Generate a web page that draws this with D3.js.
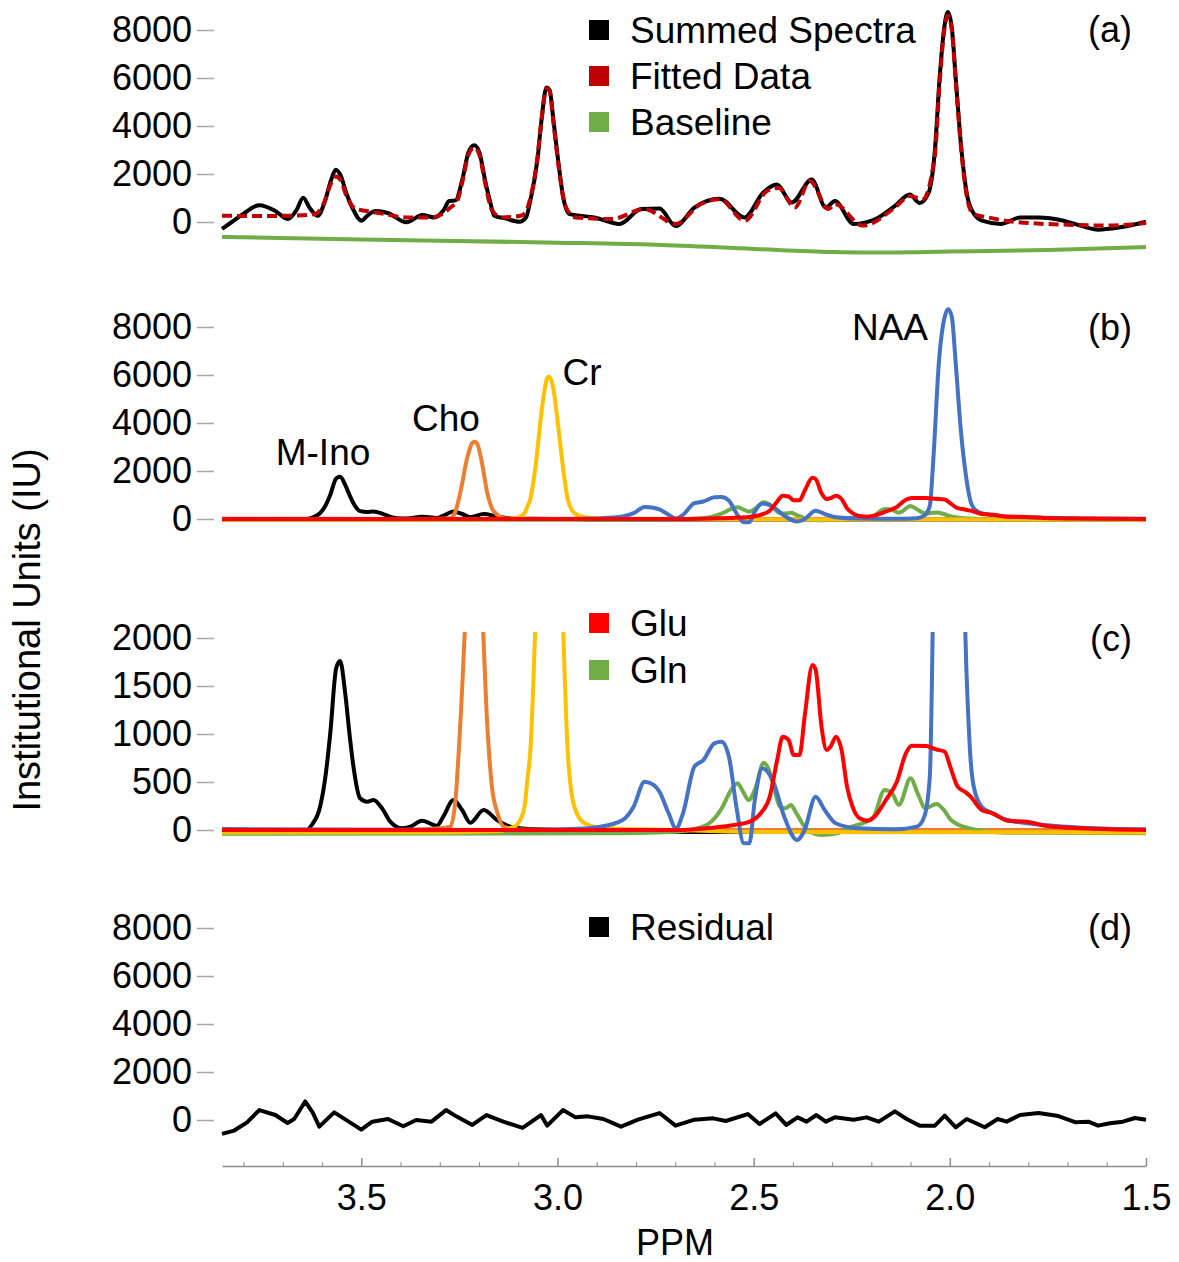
<!DOCTYPE html>
<html>
<head>
<meta charset="utf-8">
<script src="https://cdn.jsdelivr.net/npm/d3@7"></script>
<style>
  body { margin: 0; background: #fff; }
  svg text { font-family: "Liberation Sans", Arial, sans-serif; fill: #000; }
</style>
</head>
<body>
<svg id="chart" width="1179" height="1262"></svg>
<script>
// ---- data: [ppm, value] ----
const ppmTicks = [3.5, 3.0, 2.5, 2.0, 1.5];
const ppmMinorTicks = [3.8, 3.7, 3.6, 3.4, 3.3, 3.2, 3.1, 2.9, 2.8, 2.7, 2.6, 2.4, 2.3, 2.2, 2.1, 1.9, 1.8, 1.7, 1.6];
const bigTicks = [0, 2000, 4000, 6000, 8000];
const zoomTicks = [0, 500, 1000, 1500, 2000];

const summedSpectra = [[3.855,-290],[3.83,0],[3.80,350],[3.76,700],[3.719,460],[3.688,125],[3.665,500],[3.648,1010],[3.632,600],[3.611,260],[3.592,900],[3.577,1750],[3.565,2180],[3.553,1950],[3.538,1200],[3.52,500],[3.50,55],[3.482,300],[3.464,460],[3.432,375],[3.385,-15],[3.344,290],[3.314,190],[3.29,500],[3.276,875],[3.260,900],[3.242,1800],[3.227,2900],[3.212,3200],[3.199,2900],[3.184,1700],[3.171,800],[3.161,260],[3.133,150],[3.097,10],[3.080,200],[3.069,900],[3.051,2600],[3.041,4200],[3.028,5600],[3.020,5500],[3.010,4200],[2.997,2400],[2.985,1000],[2.969,330],[2.906,190],[2.842,-80],[2.786,540],[2.740,560],[2.699,-170],[2.651,600],[2.587,970],[2.523,190],[2.476,1220],[2.441,1560],[2.403,810],[2.352,1770],[2.316,600],[2.293,875],[2.245,-80],[2.189,125],[2.140,670],[2.102,1150],[2.077,790],[2.054,1220],[2.038,3000],[2.026,6000],[2.015,8000],[2.005,8750],[1.995,8100],[1.985,6000],[1.972,3300],[1.957,1200],[1.941,400],[1.918,55],[1.870,-80],[1.821,190],[1.774,190],[1.710,55],[1.663,-170],[1.622,-320],[1.566,-220],[1.500,10]];

const fittedData = [[3.855,260],[3.75,250],[3.688,260],[3.617,330],[3.595,800],[3.58,1500],[3.565,1900],[3.553,1750],[3.538,1100],[3.515,550],[3.487,460],[3.44,330],[3.385,190],[3.32,190],[3.273,600],[3.255,900],[3.242,1700],[3.227,2800],[3.212,3100],[3.199,2800],[3.184,1600],[3.167,500],[3.143,190],[3.094,260],[3.080,450],[3.069,1000],[3.051,2700],[3.041,4200],[3.028,5550],[3.020,5450],[3.010,4100],[2.997,2300],[2.985,1000],[2.969,350],[2.954,190],[2.862,125],[2.778,540],[2.699,-80],[2.635,750],[2.587,950],[2.523,55],[2.466,1290],[2.436,1420],[2.395,600],[2.357,1710],[2.309,540],[2.293,750],[2.222,-150],[2.140,600],[2.102,1080],[2.069,950],[2.038,2800],[2.026,5800],[2.015,7900],[2.005,8600],[1.995,8000],[1.985,5900],[1.972,3200],[1.957,1100],[1.941,350],[1.902,190],[1.838,10],[1.676,-125],[1.597,-150],[1.5,-40]];

const baseline = [[3.855,-620],[3.5,-730],[3.0,-860],[2.75,-950],[2.5,-1120],[2.3,-1250],[2.2,-1270],[2.0,-1230],[1.75,-1170],[1.5,-1040]];

const mIno = [[3.855,0],[3.64,0],[3.625,60],[3.605,243],[3.59,600],[3.579,1010],[3.564,1685],[3.554,1760],[3.541,1425],[3.530,1000],[3.520,660],[3.503,330],[3.485,295],[3.469,312],[3.447,225],[3.426,87],[3.396,17],[3.375,35],[3.345,97],[3.307,45],[3.291,140],[3.265,312],[3.243,208],[3.222,76],[3.188,208],[3.154,104],[3.120,35],[3.052,7],[2.967,0],[2.9,-20],[1.9,-20],[1.5,-10]];

const cho = [[3.855,0],[3.40,0],[3.349,5],[3.273,35],[3.260,312],[3.247,1150],[3.230,2550],[3.218,3150],[3.212,3220],[3.205,3150],[3.192,2300],[3.179,1100],[3.167,451],[3.153,177],[3.137,35],[3.10,5],[3.0,0],[1.5,0]];

const cr = [[3.855,-25],[3.3,-25],[3.145,-10],[3.120,20],[3.102,60],[3.084,243],[3.077,512],[3.069,834],[3.056,2180],[3.039,4680],[3.028,5790],[3.023,5930],[3.016,5800],[3.010,5375],[2.997,3708],[2.984,1904],[2.974,834],[2.957,243],[2.931,70],[2.880,17],[2.7,0],[2.5,-20],[1.5,-25]];

const naa = [[3.855,10],[3.10,0],[2.967,10],[2.890,35],[2.834,104],[2.806,243],[2.778,503],[2.755,470],[2.740,399],[2.717,177],[2.698,17],[2.680,174],[2.651,660],[2.628,729],[2.600,903],[2.582,920],[2.563,764],[2.544,243],[2.525,-139],[2.511,-139],[2.497,312],[2.478,643],[2.450,503],[2.422,139],[2.389,-104],[2.370,0],[2.342,347],[2.319,208],[2.291,70],[2.235,17],[2.140,7],[2.084,35],[2.065,139],[2.051,555],[2.042,2500],[2.028,6500],[2.013,8430],[2.004,8738],[1.995,8430],[1.985,6500],[1.972,3708],[1.958,1700],[1.947,729],[1.939,451],[1.919,243],[1.891,174],[1.853,104],[1.758,52],[1.663,24],[1.5,7]];

const glu = [[3.855,0],[2.700,0],[2.605,24],[2.549,52],[2.510,87],[2.482,174],[2.459,347],[2.440,729],[2.426,972],[2.411,938],[2.398,781],[2.383,781],[2.370,1180],[2.350,1719],[2.342,1667],[2.327,1076],[2.314,834],[2.304,868],[2.290,972],[2.276,834],[2.262,451],[2.248,243],[2.230,122],[2.210,97],[2.192,139],[2.163,312],[2.135,503],[2.112,799],[2.097,878],[2.060,875],[2.036,840],[2.013,816],[1.999,660],[1.980,451],[1.962,399],[1.947,347],[1.919,208],[1.891,174],[1.853,97],[1.804,87],[1.758,45],[1.663,17],[1.500,0]];

const gln = [[3.855,-40],[2.890,-35],[2.700,-17],[2.645,17],[2.608,87],[2.579,243],[2.560,399],[2.541,486],[2.527,399],[2.513,312],[2.494,451],[2.475,701],[2.461,625],[2.447,417],[2.433,243],[2.419,226],[2.405,260],[2.391,174],[2.363,0],[2.325,-52],[2.288,-35],[2.250,35],[2.213,87],[2.194,139],[2.166,417],[2.147,382],[2.130,260],[2.100,539],[2.082,382],[2.062,226],[2.034,271],[2.015,208],[1.997,104],[1.950,17],[1.857,-28],[1.500,-35]];

const residual = [[3.855,-580],[3.824,-440],[3.791,-97],[3.760,414],[3.719,207],[3.688,-124],[3.671,41],[3.643,773],[3.624,317],[3.607,-276],[3.569,317],[3.536,-28],[3.500,-400],[3.472,-69],[3.432,41],[3.393,-262],[3.360,0],[3.321,-69],[3.284,414],[3.258,152],[3.217,-207],[3.181,207],[3.138,-69],[3.089,-331],[3.042,207],[3.026,-235],[2.986,414],[2.954,110],[2.922,152],[2.883,41],[2.838,-276],[2.795,14],[2.740,290],[2.699,-235],[2.651,14],[2.603,69],[2.571,-41],[2.515,248],[2.485,-166],[2.444,276],[2.417,-207],[2.388,110],[2.365,-69],[2.340,207],[2.316,-69],[2.293,110],[2.245,14],[2.212,110],[2.181,-69],[2.140,359],[2.110,41],[2.077,-235],[2.038,-235],[2.013,179],[1.985,-304],[1.957,41],[1.911,-304],[1.878,41],[1.855,-69],[1.821,207],[1.774,290],[1.727,179],[1.679,-97],[1.647,-69],[1.622,-235],[1.592,-138],[1.559,-69],[1.528,83],[1.500,14]];

window.Spec = window.Spec || {};

Spec.init = function() {
    Spec.setup.initConst();
    Spec.setup.initScales();
    Spec.core.draw();
};

Spec.setup = {
    initConst: function() {
        Spec.svg = d3.select('#chart');
        Spec.left = 222;
        Spec.right = 1146;
        Spec.font = 36;
        Spec.lineW = 4;
        Spec.panels = [
            {id: 'a', zero: 222, top: 30, max: 8000, ticks: bigTicks, label: 'a', labelY: 42},
            {id: 'b', zero: 519, top: 327, max: 8000, ticks: bigTicks, label: 'b', labelY: 340},
            {id: 'c', zero: 830, top: 638, max: 2000, ticks: zoomTicks, label: 'c', labelY: 651, clipTop: 632},
            {id: 'd', zero: 1120, top: 928, max: 8000, ticks: bigTicks, label: 'd', labelY: 940}
        ];
        // components, in drawing order
        Spec.components = [
            {data: mIno, color: '#000000'},
            {data: cho, color: '#ed7d31'},
            {data: gln, color: '#70ad47'},
            {data: cr, color: '#ffc000'},
            {data: naa, color: '#4472c4'},
            {data: glu, color: '#ff0000'}
        ];
    },

    initScales: function() {
        Spec.x = d3.scaleLinear().domain([3.855, 1.5]).range([Spec.left, Spec.right]);
        Spec.panels.forEach(function(p) {
            p.y = d3.scaleLinear().domain([0, p.max]).range([p.zero, p.top]);
        });
    }
};

Spec.helpers = {
    line: function(p, curve) {
        return d3.line()
            .x(d => Spec.x(d[0]))
            .y(d => p.y(d[1]))
            .curve(curve || d3.curveMonotoneX);
    },

    drawSeries: function(g, p, data, color, extra) {
        let path = g.append('path')
            .datum(data)
            .attr('d', Spec.helpers.line(p, extra && extra.curve))
            .attr('fill', 'none')
            .attr('stroke', color)
            .attr('stroke-width', Spec.lineW)
            .attr('stroke-linejoin', 'round');
        if (extra && extra.dash) path.attr('stroke-dasharray', extra.dash);
        return path;
    },

    legend: function(items, cy0, step) {
        items.forEach(function(it, i) {
            let cy = cy0 + i * step;
            Spec.svg.append('rect')
                .attr('x', 589).attr('y', cy - 10)
                .attr('width', 20).attr('height', 20)
                .attr('fill', it.color);
            Spec.svg.append('text')
                .attr('x', 630).attr('y', cy + 13)
                .attr('font-size', 37)
                .text(it.name);
        });
    },

    yAxis: function(p) {
        let axis = d3.axisLeft(p.y).tickValues(p.ticks).tickFormat(d3.format('d'))
            .tickSize(17).tickPadding(5);
        let g = Spec.svg.append('g').attr('transform', 'translate(214,0)').call(axis);
        g.select('.domain').remove();
        g.selectAll('line').attr('stroke', '#a6a6a6').attr('stroke-width', 1.5);
        g.selectAll('text').attr('font-size', Spec.font).attr('fill', '#000')
            .attr('font-family', '"Liberation Sans", Arial, sans-serif');
    }
};

Spec.core = {
    draw: function() {
        let defs = Spec.svg.append('defs');
        Spec.panels.forEach(function(p) {
            Spec.helpers.yAxis(p);
            Spec.svg.append('text')
                .attr('x', 1132).attr('y', p.labelY)
                .attr('text-anchor', 'end')
                .attr('font-size', Spec.font)
                .text('(' + p.label + ')');
        });

        // panel a
        let pa = Spec.panels[0];
        let ga = Spec.svg.append('g');
        Spec.helpers.drawSeries(ga, pa, baseline, '#70ad47');
        Spec.helpers.drawSeries(ga, pa, summedSpectra, '#000000');
        Spec.helpers.drawSeries(ga, pa, fittedData, '#c00000', {dash: '10,5'});
        Spec.helpers.legend([
            {name: 'Summed Spectra', color: '#000000'},
            {name: 'Fitted Data', color: '#c00000'},
            {name: 'Baseline', color: '#70ad47'}
        ], 30, 46);

        // panels b and c: same components, c clipped at the top
        [1, 2].forEach(function(i) {
            let p = Spec.panels[i];
            let g = Spec.svg.append('g');
            if (p.clipTop) {
                defs.append('clipPath').attr('id', 'clip-' + p.id)
                    .append('rect')
                    .attr('x', Spec.left - 5).attr('y', p.clipTop)
                    .attr('width', Spec.right - Spec.left + 10)
                    .attr('height', p.zero + 60 - p.clipTop);
                g.attr('clip-path', 'url(#clip-' + p.id + ')');
            }
            Spec.components.forEach(function(c) {
                Spec.helpers.drawSeries(g, p, c.data, c.color);
            });
        });

        // annotations on b
        [['M-Ino', 323, 465], ['Cho', 446, 431], ['Cr', 582, 385], ['NAA', 890, 340]].forEach(function(a) {
            Spec.svg.append('text')
                .attr('x', a[1]).attr('y', a[2])
                .attr('text-anchor', 'middle')
                .attr('font-size', 37)
                .text(a[0]);
        });

        Spec.helpers.legend([
            {name: 'Glu', color: '#ff0000'},
            {name: 'Gln', color: '#70ad47'}
        ], 623, 47);

        // panel d
        let pd = Spec.panels[3];
        let gd = Spec.svg.append('g');
        Spec.helpers.drawSeries(gd, pd, residual, '#000000', {curve: d3.curveLinear});
        Spec.helpers.legend([{name: 'Residual', color: '#000000'}], 927, 0);

        // bottom axis
        let xg = Spec.svg.append('g').attr('transform', 'translate(0,1166)');
        xg.call(d3.axisBottom(Spec.x).tickValues(ppmTicks).tickFormat(d3.format('.1f'))
            .tickSizeInner(-8).tickSizeOuter(0).tickPadding(18));
        xg.select('.domain').attr('stroke', '#8c8c8c').attr('stroke-width', 1.5);
        xg.selectAll('line').attr('stroke', '#8c8c8c').attr('stroke-width', 1.5);
        xg.selectAll('text').attr('font-size', Spec.font).attr('fill', '#000')
            .attr('font-family', '"Liberation Sans", Arial, sans-serif');
        let mg = Spec.svg.append('g').attr('transform', 'translate(0,1166)');
        mg.call(d3.axisBottom(Spec.x).tickValues(ppmMinorTicks).tickFormat('')
            .tickSizeInner(-4).tickSizeOuter(0));
        mg.select('.domain').remove();
        mg.selectAll('line').attr('stroke', '#8c8c8c').attr('stroke-width', 1);

        Spec.svg.append('text')
            .attr('x', 675).attr('y', 1255)
            .attr('text-anchor', 'middle')
            .attr('font-size', Spec.font)
            .text('PPM');

        Spec.svg.append('text')
            .attr('transform', 'translate(40,630) rotate(-90)')
            .attr('text-anchor', 'middle')
            .attr('font-size', 38)
            .text('Institutional Units (IU)');
    }
};

Spec.init();
</script>
</body>
</html>
